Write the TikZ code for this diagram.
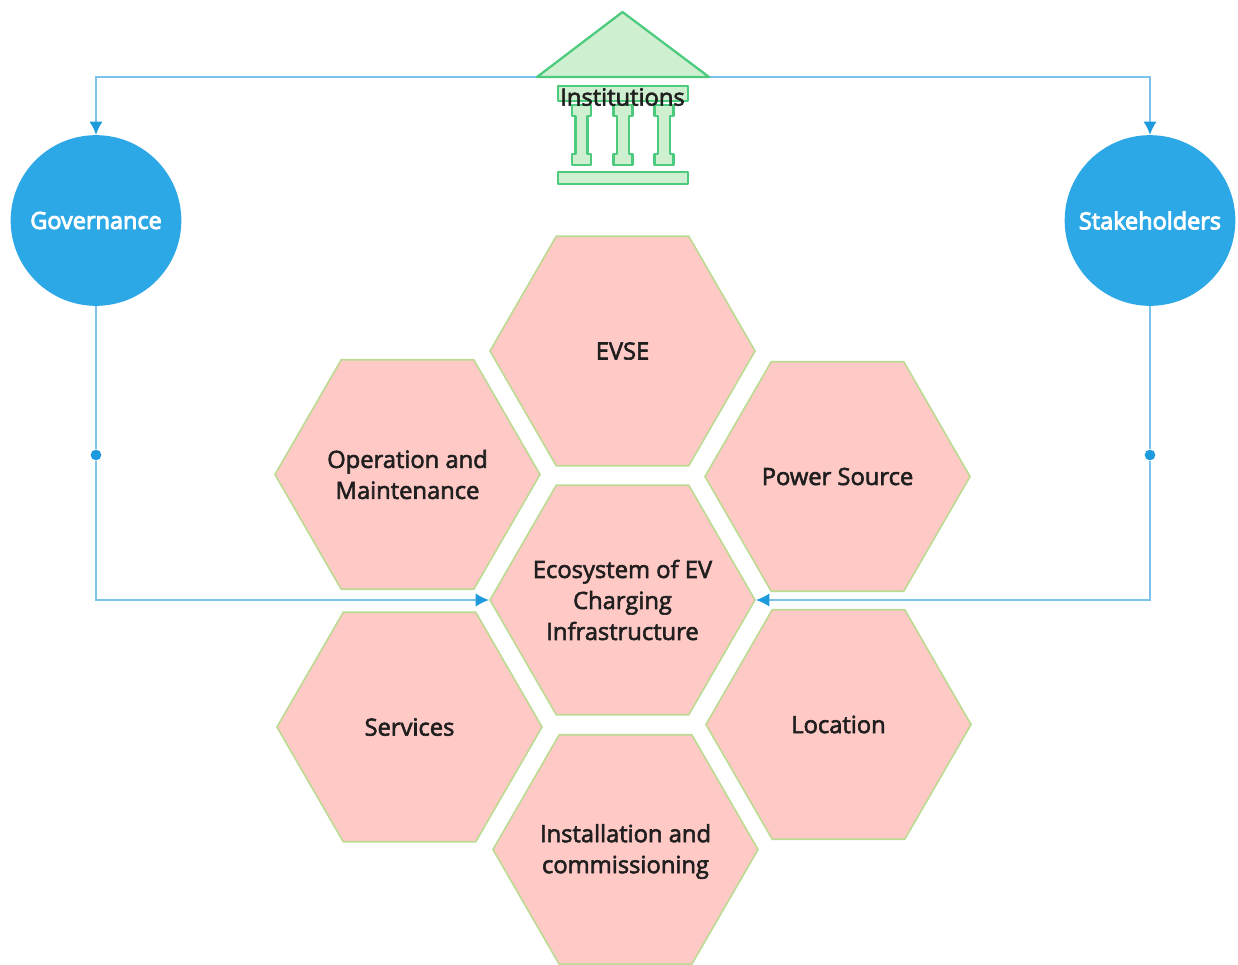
\documentclass[tikz,border=0pt]{standalone}
\usepackage{fontspec}
\setmainfont{Open Sans}[FakeBold=2.5]
\newfontfamily\boldlabel{Open Sans}[FakeBold=4]
\usetikzlibrary{shapes.geometric,arrows.meta}
\definecolor{wireblue}{HTML}{7CC3EB}
\definecolor{tipblue}{HTML}{1E9BDD}
\definecolor{discblue}{HTML}{2CA8E6}
\definecolor{hexfill}{HTML}{FFC9C5}
\definecolor{hexline}{HTML}{BBDB92}
\definecolor{templefill}{HTML}{CFF0D0}
\definecolor{templeline}{HTML}{4CCB7E}
\tikzset{
  x=0.75pt,y=-0.75pt,
  hexcell/.style={regular polygon,regular polygon sides=6,minimum size=198.8pt,inner sep=0pt,
    fill=hexfill,draw=hexline,line width=1.2pt},
  hextext/.style={text=black!88,align=center,inner sep=0pt,
    font=\fontsize{17.8}{23.25}\selectfont},
  disc/.style={circle,minimum size=128pt,inner sep=0pt,fill=discblue,text=white,
    font=\boldlabel\fontsize{17.6}{20}\selectfont},
  wire/.style={draw=wireblue,line width=1.3pt},
  arrowwire/.style={wire,-{Latex[length=10pt,width=10pt,color=tipblue]}},
  joint/.style={circle,minimum size=8pt,inner sep=0pt,fill=tipblue},
  templepart/.style={fill=templefill,draw=templeline,line width=1.7pt,line join=round},
}
\newcommand{\templecolumn}[1]{
  \path[templepart] (#1-9.5,105) -- (#1+9.5,105) -- (#1+9.5,116) -- (#1+6,116) -- (#1+6,154)
    -- (#1+9.5,154) -- (#1+9.5,165) -- (#1-9.5,165) -- (#1-9.5,154) -- (#1-6,154)
    -- (#1-6,116) -- (#1-9.5,116) -- cycle;
}
\begin{document}
\begin{tikzpicture}
\useasboundingbox (0,0) rectangle (1238,964);
\clip (0,0) rectangle (1238,964);
% circles
\node[disc] (gov) at (96,220.5) {Governance};
\node[disc] (stake) at (1150,220.5) {Stakeholders};
% hexagons (labels are separate nodes so the text cannot enlarge the shape)
\node[hexcell,label={[hextext,name=evsetext]center:EVSE}] (evse) at (622.5,351) {};
\node[hexcell,label={[hextext,name=omtext]center:Operation and\\Maintenance}] (om) at (407.5,474.5) {};
\node[hexcell,label={[hextext,name=powertext]center:Power Source}] (power) at (837.5,476.5) {};
\node[hexcell,label={[hextext,name=coretext]center:Ecosystem of EV\\Charging\\Infrastructure}] (core) at (622.5,600) {};
\node[hexcell,label={[hextext,name=servtext]center:Services}] (serv) at (409.5,727) {};
\node[hexcell,label={[hextext,name=loctext]center:Location}] (loc) at (838.5,724.5) {};
\node[hexcell,label={[hextext,yshift=-1.5pt,name=insttext]center:Installation and\\commissioning}] (inst) at (625.5,849.5) {};
% junction dots
\node[joint] (jl) at (96,455) {};
\node[joint] (jr) at (1150,455) {};
\coordinate (roofL) at (537,77);
\coordinate (roofR) at (709,77);
\coordinate (roofT) at (622.5,12);
% connectors
\draw[arrowwire] (roofL) -| (gov.north);
\draw[arrowwire] (roofR) -| (stake.north);
\draw[wire] (gov.south) -- (jl);
\draw[wire] (stake.south) -- (jr);
\draw[arrowwire] (jl) |- (core.west);
\draw[arrowwire] (jr) |- (core.east);
% temple
\path[templepart] (roofL) -- (roofT) -- (roofR) -- cycle;
\path[templepart] (558,86) rectangle (688,101);
\templecolumn{581.5}
\templecolumn{623}
\templecolumn{664}
\path[templepart] (558,172) rectangle (688,184);
\node[text=black!88,inner sep=0pt,font=\fontsize{17.8}{20}\selectfont] (instlabel) at (622.5,97) {Institutions};
\end{tikzpicture}
\end{document}
